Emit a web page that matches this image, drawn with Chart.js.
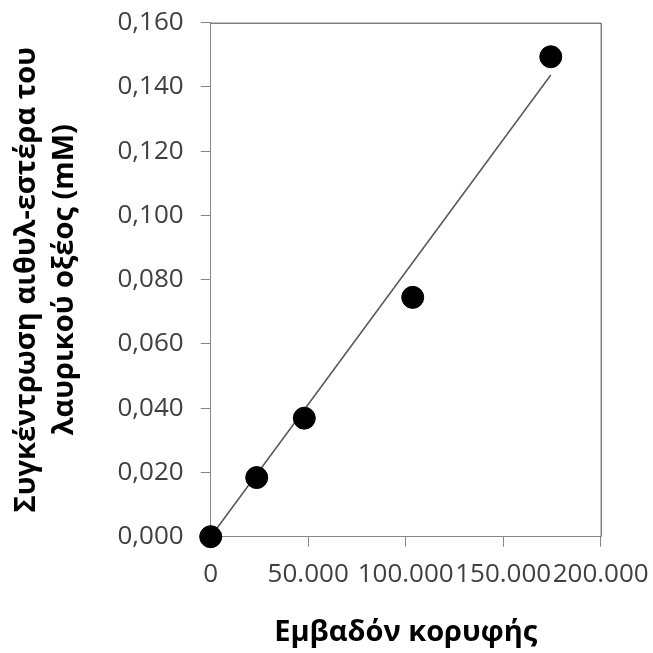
<!DOCTYPE html>
<html>
<head>
<meta charset="utf-8">
<script src="https://cdn.jsdelivr.net/npm/chart.js@4/dist/chart.umd.min.js"></script>
<style>
    html, body { margin: 0; padding: 0; background: #fff; }
    #wrap { width: 653px; height: 653px; }
</style>
</head>
<body>
<div id="wrap"><canvas id="chart" width="653" height="653"></canvas></div>
<script>
// peak area vs. concentration of ethyl laurate
const peakArea = [0, 23600, 48000, 103600, 174400];
const concentration = [0.0, 0.0184, 0.0369, 0.0745, 0.1494];

// linear trendline endpoints as drawn
const trendX = [0, 174400];
const trendY = [0.0, 0.1437];

const xTitle = 'Εμβαδόν κορυφής';
const yTitle = ['Συγκέντρωση αιθυλ-εστέρα του', 'λαυρικού οξέος (mM)'];

const fontFamily = "'Open Sans', sans-serif";
const tickColor = '#404040';
const axisColor = '#868686';

const points = peakArea.map((x, i) => ({ x: x, y: concentration[i] }));
const trend = trendX.map((x, i) => ({ x: x, y: trendY[i] }));

// keep tick labels from pushing the plot area around
function noLabelPadding(s) {
    s.paddingTop = 0;
    s.paddingBottom = 0;
    s.paddingLeft = 0;
    s.paddingRight = 0;
}

const frameBorder = {
    id: 'frameBorder',
    beforeDatasetsDraw(chart) {
        const a = chart.chartArea;
        const ctx = chart.ctx;
        ctx.save();
        ctx.strokeStyle = '#404040';
        ctx.lineWidth = 1;
        ctx.beginPath();
        ctx.moveTo(a.left, a.top + 0.5);
        ctx.lineTo(a.right + 0.5, a.top + 0.5);
        ctx.lineTo(a.right + 0.5, a.bottom);
        ctx.stroke();
        ctx.restore();
    }
};

const ctx = document.getElementById('chart').getContext('2d');
const chart = new Chart(ctx, {
    type: 'scatter',
    data: {
        datasets: [{
            data: points,
            backgroundColor: '#000',
            borderColor: '#000',
            pointRadius: 11,
            pointHoverRadius: 11,
            order: 0
        }, {
            type: 'line',
            data: trend,
            borderColor: '#555',
            borderWidth: 1.5,
            pointRadius: 0,
            fill: false,
            order: 1
        }]
    },
    options: {
        responsive: false,
        animation: false,
        clip: false,
        layout: { padding: { left: 0, right: 52.3, top: 22.7, bottom: 0 } },
        plugins: {
            legend: { display: false },
            tooltip: { enabled: false }
        },
        scales: {
            x: {
                type: 'linear',
                min: 0,
                max: 200000,
                afterFit: (s) => { s.height = 116.3; noLabelPadding(s); },
                border: { color: axisColor, width: 1 },
                grid: { drawOnChartArea: false, tickLength: 10, color: axisColor },
                ticks: {
                    stepSize: 50000,
                    color: tickColor,
                    padding: 12,
                    maxRotation: 0,
                    autoSkip: false,
                    font: { family: fontFamily, size: 26 },
                    callback: (v) => v.toLocaleString('de-DE')
                },
                title: {
                    display: true,
                    text: xTitle,
                    color: '#000',
                    padding: { top: 0, bottom: 3 },
                    font: { family: fontFamily, size: 29, weight: 'bold' }
                }
            },
            y: {
                type: 'linear',
                min: 0,
                max: 0.16,
                afterFit: (s) => { s.width = 210.7; noLabelPadding(s); },
                border: { color: axisColor, width: 1 },
                grid: { drawOnChartArea: false, tickLength: 10, color: axisColor },
                ticks: {
                    stepSize: 0.02,
                    color: tickColor,
                    padding: 17,
                    font: { family: fontFamily, size: 26 },
                    callback: (v) => v.toFixed(3).replace('.', ',')
                },
                title: {
                    display: true,
                    text: yTitle,
                    color: '#000',
                    padding: { top: 8, bottom: 0 },
                    font: { family: fontFamily, size: 29, weight: 'bold', lineHeight: 1.3 }
                }
            }
        }
    },
    plugins: [frameBorder]
});
</script>
</body>
</html>
